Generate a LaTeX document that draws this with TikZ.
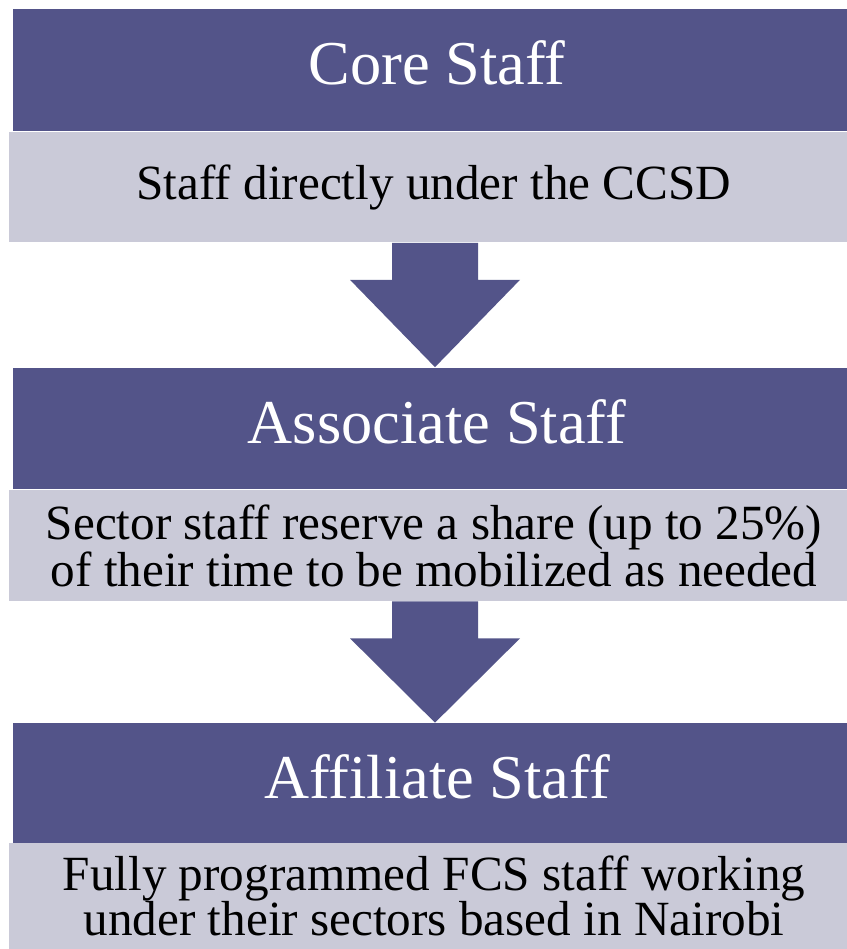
\documentclass[tikz,border=0pt]{standalone}
\usepackage{fontspec}
\setmainfont{Liberation Serif}
\usepackage{tikz}
\usetikzlibrary{calc,positioning}
\definecolor{bandUN}{RGB}{83,84,137}
\definecolor{noteGrey}{RGB}{202,202,216}

\begin{document}
\begin{tikzpicture}[
  x=0.02cm,y=-0.02cm,
  band/.style={fill=bandUN,text=white,inner sep=0pt,minimum width=16.96cm,
    minimum height=2.44cm,text height=0.8cm,text depth=0.2cm,
    font=\fontsize{35.5}{40}\selectfont},
  note/.style={fill=noteGrey,text=black,inner sep=0pt,minimum width=17cm,
    minimum height=2.22cm,align=center,font=\fontsize{28}{25.5}\selectfont},
  flow/.style={fill=bandUN}
]
  \useasboundingbox (0,0) rectangle (847,949);

  \node[band] (core) at (437,70) {Core Staff};
  \node[note] (coreNote) at (434,187) {Staff directly under the CCSD};

  \node[band] (assoc) at (437,428.5) {Associate Staff};
  \node[note] (assocNote) at (434,545.5)
    {Sector staff reserve a share (up to 25\%)\\of their time to be mobilized as needed};

  \node[band,minimum height=2.4cm] (affil) at (437,783) {Affiliate Staff};
  \node[note,minimum height=2.12cm] (affilNote) at (434,896)
    {Fully programmed FCS staff working\\under their sectors based in Nairobi};

  % block arrows between the levels
  \coordinate (mid) at (435,0);
  \foreach \from/\to in {coreNote/assoc,assocNote/affil}{
    \coordinate (a) at (\from.south -| mid);
    \coordinate (t) at (\to.north -| mid);
    \fill[flow] ($(a)+(-43,0)$) -- ($(a)+(43,0)$) -- ($(a)+(43,37)$)
      -- ($(a)+(85,37)$) -- (t) -- ($(a)+(-85,37)$) -- ($(a)+(-43,37)$) -- cycle;
  }
\end{tikzpicture}
\end{document}
